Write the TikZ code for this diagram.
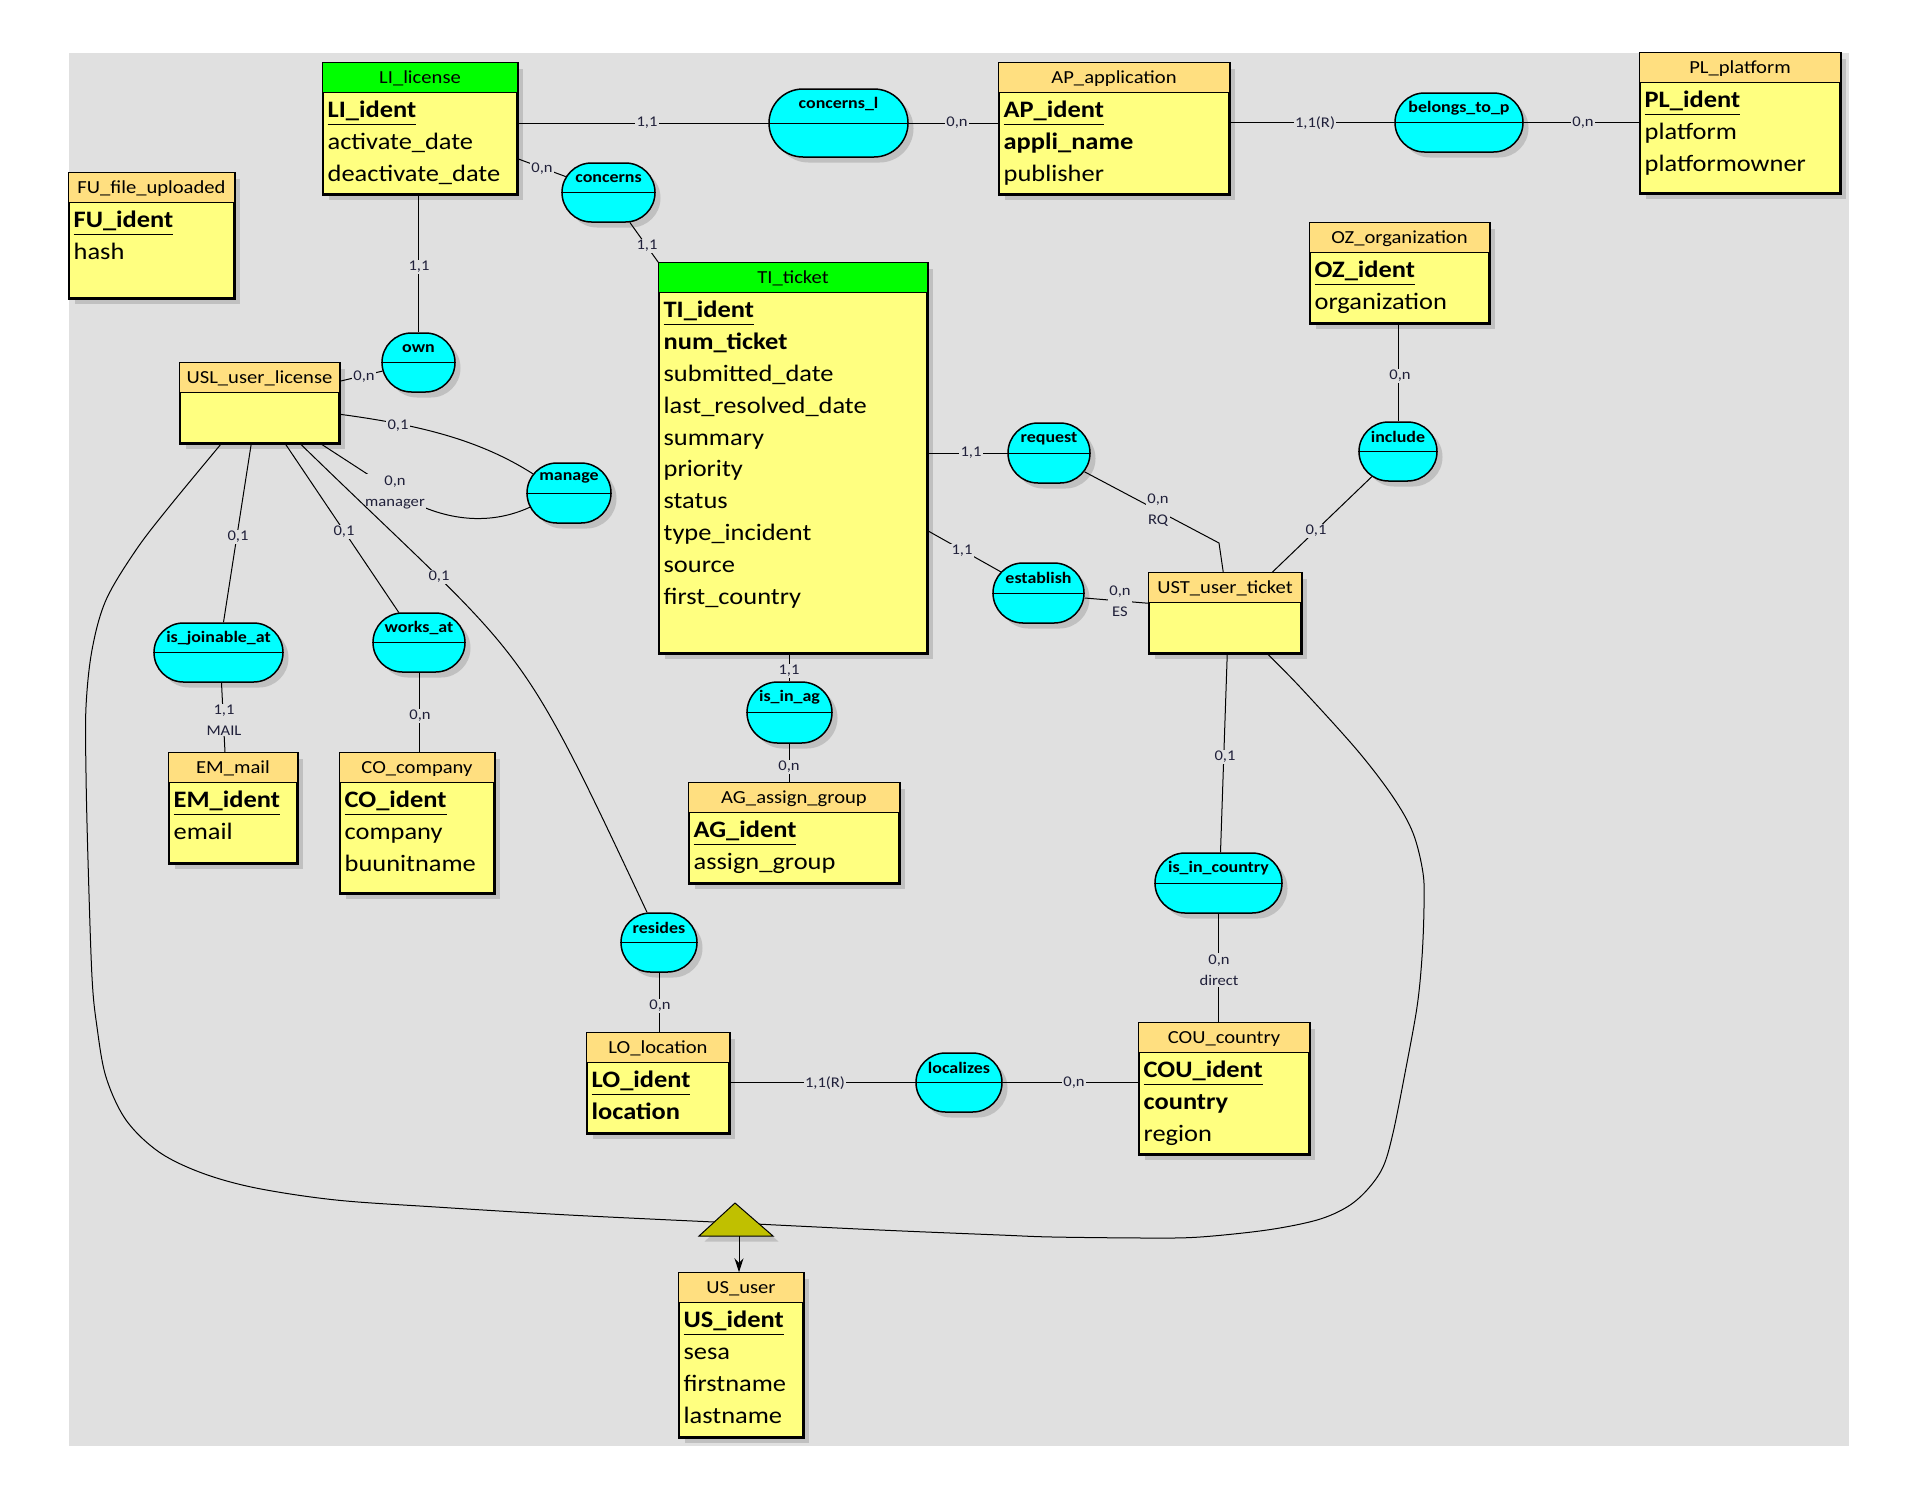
\documentclass[tikz,border=0pt]{standalone}
\usepackage{fontspec}
\setmainfont{Carlito}[FakeStretch=1.12]
\usetikzlibrary{calc,fit,shapes.misc,shadows,arrows.meta}
\definecolor{bgc}{HTML}{E0E0E0}
\definecolor{hdrc}{HTML}{FFDF80}
\definecolor{bodyc}{HTML}{FFFF80}
\definecolor{greenc}{HTML}{00FF00}
\definecolor{relc}{HTML}{00FFFF}
\definecolor{shc}{HTML}{C0C0C0}
\definecolor{olivec}{HTML}{C0C000}
\definecolor{cardc}{HTML}{20203A}
\newcommand{\pk}[1]{\underline{\textbf{#1}}}
\tikzset{
  myshadow/.style={drop shadow={shadow xshift=2.75pt, shadow yshift=-2.75pt, fill=shc, opacity=1}},
  entbox/.style={draw=black, line width=0.75pt, fill=bodyc, inner sep=0pt, myshadow},
  relbox/.style={rounded rectangle, draw=black, line width=0.75pt, fill=relc, inner sep=0pt, myshadow},
  etitle/.style={inner sep=0pt, anchor=base, font=\fontsize{9.2}{10}\selectfont},
  rtitle/.style={inner sep=0pt, font=\fontsize{8}{9}\selectfont\bfseries},
  attr/.style={anchor=base west, inner sep=0pt, font=\fontsize{11.8}{13}\selectfont},
  conn/.style={line width=0.5pt, draw=black},
  card/.style={fill=bgc, inner sep=0.6pt, font=\fontsize{7.4}{10.5}\selectfont, text=cardc, align=center}
}
\newcommand{\ent}[7]{%
  \node[entbox, fit={(#2,#3) (#4,#5)}] (#1) {};
  \fill[#6] (#1.north west) rectangle ($(#1.north east)+(0,30)$);
  \draw[line width=0.75pt] ($(#1.north west)+(0,30)$) -- ($(#1.north east)+(0,30)$);
  \draw[line width=0.75pt] (#1.north west) rectangle (#1.south east);
  \node[etitle] (#1-t) at ($(#1.north)+(0,21.5)$) {#7};
}
\newcommand{\rows}[2]{%
  \foreach \t [count=\i] in {#2}
    \node[attr] (#1-\i) at ($(#1.north west)+(5,{23.8+\i*31.8})$) {\t};
}
\newcommand{\rel}[6]{%
  \pgfmathsetmacro\relw{(#4-#2)*0.5}
  \pgfmathsetmacro\relh{(#5-#3)*0.5}
  \node[relbox, minimum width=\relw pt, minimum height=\relh pt] (#1) at ({(#2+#4)/2},{(#3+#5)/2}) {};
  \draw[line width=0.5pt] (#1.west) -- (#1.east);
  \node[rtitle] (#1-t) at ($(#1.north)+(0,16)$) {#6};
}
\begin{document}
\begin{tikzpicture}[x=0.5pt,y=-0.5pt]
\useasboundingbox (0,0) rectangle (1920,1500);
\fill[bgc] (69,53) rectangle (1849,1446);

% entities
\ent{LI}{323}{63}{517}{194}{greenc}{LI\_license}
\rows{LI}{\pk{LI\_ident},activate\_date,deactivate\_date}
\ent{FU}{69}{173}{234}{298}{hdrc}{FU\_file\_uploaded}
\rows{FU}{\pk{FU\_ident},hash}
\ent{AP}{999}{63}{1229}{194}{hdrc}{AP\_application}
\rows{AP}{\pk{AP\_ident},\textbf{appli\_name},publisher}
\ent{PL}{1640}{53}{1840}{193}{hdrc}{PL\_platform}
\rows{PL}{\pk{PL\_ident},platform,platformowner}
\ent{OZ}{1310}{223}{1489}{323}{hdrc}{OZ\_organization}
\rows{OZ}{\pk{OZ\_ident},organization}
\ent{TI}{659}{263}{927}{653}{greenc}{TI\_ticket}
\rows{TI}{\pk{TI\_ident},\textbf{num\_ticket},submitted\_date,last\_resolved\_date,summary,priority,status,type\_incident,source,first\_country}
\ent{USL}{180}{363}{339}{443}{hdrc}{USL\_user\_license}
\ent{UST}{1149}{573}{1301}{653}{hdrc}{UST\_user\_ticket}
\ent{EM}{169}{753}{297}{863}{hdrc}{EM\_mail}
\rows{EM}{\pk{EM\_ident},email}
\ent{CO}{340}{753}{494}{893}{hdrc}{CO\_company}
\rows{CO}{\pk{CO\_ident},company,buunitname}
\ent{AG}{689}{783}{899}{883}{hdrc}{AG\_assign\_group}
\rows{AG}{\pk{AG\_ident},assign\_group}
\ent{LO}{587}{1033}{729}{1133}{hdrc}{LO\_location}
\rows{LO}{\pk{LO\_ident},\textbf{location}}
\ent{COU}{1139}{1023}{1309}{1154}{hdrc}{COU\_country}
\rows{COU}{\pk{COU\_ident},\textbf{country},region}
\ent{US}{679}{1273}{803}{1437}{hdrc}{US\_user}
\rows{US}{\pk{US\_ident},sesa,firstname,lastname}

% relations
\rel{CL}{769}{89}{908}{157}{concerns\_l}
\rel{BP}{1395}{93}{1523}{152}{belongs\_to\_p}
\rel{CN}{562}{163}{655}{222}{concerns}
\rel{OWN}{382}{333}{455}{392}{own}
\rel{REQ}{1008}{423}{1090}{483}{request}
\rel{EST}{993}{563}{1084}{623}{establish}
\rel{INC}{1359}{422}{1437}{481}{include}
\rel{MAN}{527}{463}{611}{523}{manage}
\rel{JOIN}{154}{623}{283}{682}{is\_joinable\_at}
\rel{WORK}{373}{613}{465}{672}{works\_at}
\rel{ISAG}{747}{682}{832}{743}{is\_in\_ag}
\rel{RES}{621}{913}{697}{972}{resides}
\rel{LOC}{916}{1053}{1002}{1112}{localizes}
\rel{ISC}{1155}{853}{1282}{913}{is\_in\_country}

% connectors
\draw[conn] (CL.west -| LI.east) -- (CL.west);
\node[card] (c1) at (647,123) {1,1};
\draw[conn] (CL.east) -- (CL.east -| AP.west);
\node[card] (c2) at (957,123) {0,n};
\draw[conn] (BP.west -| AP.east) -- (BP.west);
\node[card] (c3) at (1315,123) {1,1(R)};
\draw[conn] (BP.east) -- (BP.east -| PL.west);
\node[card] (c4) at (1583,123) {0,n};

\draw[conn] ($(LI.south east)+(0,-36)$) -- (CN);
\node[card] (c5) at (542,169) {0,n};
\draw[conn] (CN) -- (TI.north west);
\node[card] (c6) at (647,246) {1,1};

\draw[conn] (OWN.north |- LI.south) -- (OWN.north);
\node[card] (c7) at (419,267) {1,1};
\draw[conn] ($(USL.north east)+(0,19)$) -- (OWN);
\node[card] (c8) at (364,377) {0,n};

\draw[conn] ($(USL.north east)+(0,52)$) .. controls (420,425) and (480,440) .. (MAN.152);
\node[card] (c9) at (398,426) {0,1};
\draw[conn] ($(USL.south east)+(-19,0)$) -- (395,492) .. controls (430,515) and (480,530) .. (MAN.200);
\node[card] (c10) at (395,492) {0,n\\manager};

\draw[conn] ($(USL.south west)+(72,0)$) -- ($(JOIN.north)+(5,0)$);
\node[card] (c11) at (238,537) {0,1};
\draw[conn] ($(JOIN.south)+(3,0)$) -- ($(EM.north)+(-8,0)$);
\node[card] (c12) at (224,720) {1,1\\MAIL};

\draw[conn] ($(USL.south west)+(106,0)$) -- (WORK);
\node[card] (c13) at (344,532) {0,1};
\draw[conn] (WORK.south) -- (WORK.south |- CO.north);
\node[card] (c14) at (420,716) {0,n};

\draw[conn] ($(USL.south west)+(121,0)$) .. controls (531,668) and (513,627) .. ($(RES.north)+(-12,0)$);
\node[card] (c15) at (439,577) {0,1};
\draw[conn] (RES.south) -- (RES.south |- LO.north);
\node[card] (c16) at (660,1006) {0,n};

\draw[conn] (LOC.west -| LO.east) -- (LOC.west);
\node[card] (c17) at (825,1083) {1,1(R)};
\draw[conn] (LOC.east) -- (LOC.east -| COU.west);
\node[card] (c18) at (1074,1083) {0,n};

\draw[conn] (ISAG.north |- TI.south) -- (ISAG.north);
\node[card] (c19) at (789,671) {1,1};
\draw[conn] (ISAG.south) -- (ISAG.south |- AG.north);
\node[card] (c20) at (789,767) {0,n};

\draw[conn] (REQ.west -| TI.east) -- (REQ.west);
\node[card] (c21) at (971,453) {1,1};
\coordinate (rqbend) at (1219,543);
\draw[conn] (REQ) -- (rqbend) -- ($(UST.north west)+(75,0)$);
\node[card] (c22) at (1158,510) {0,n\\RQ};

\draw[conn] ($(TI.south east)+(0,-123)$) -- (EST);
\node[card] (c23) at (962,551) {1,1};
\draw[conn] ($(EST.east)+(0,5)$) -- ($(UST.north west)+(0,31)$);
\node[card] (c24) at (1120,601) {0,n\\ES};

\draw[conn] (INC.north |- OZ.south) -- (INC.north);
\node[card] (c25) at (1400,376) {0,n};
\draw[conn] (INC) -- ($(UST.north west)+(124,0)$);
\node[card] (c26) at (1316,531) {0,1};

\draw[conn] ($(UST.south west)+(79,0)$) -- ($(ISC.north)+(2,0)$);
\node[card] (c27) at (1225,757) {0,1};
\draw[conn] (ISC.south) -- (ISC.south |- COU.north);
\node[card] (c28) at (1219,970) {0,n\\direct};

% inheritance
\coordinate (isa) at (736,1223);
\coordinate (uslA) at ($(USL.south west)+(42,0)$);
\coordinate (ustA) at ($(UST.south west)+(119,0)$);
\draw[conn] plot[smooth, tension=0.55] coordinates {(uslA) (169,507) (136,550) (106,600) (92,650) (86,707) (86,773) (88,860) (92,977) (97,1027) (106,1077) (126,1120) (159,1152) (202,1173) (256,1188) (336,1200) (436,1207) (569,1215) (isa)};
\draw[conn] plot[smooth, tension=0.55] coordinates {(ustA) (1300,687) (1357,750) (1393,797) (1413,833) (1423,873) (1424,907) (1422,957) (1417,1007) (1405,1073) (1393,1133) (1383,1167) (1367,1190) (1347,1207) (1317,1220) (1267,1230) (1200,1237) (1150,1238) (1053,1237) (1000,1235) (880,1230) (isa)};
\filldraw[fill=olivec, draw=black, line width=0.5pt, myshadow] ($(isa)+(-37,13)$) -- ($(isa)+(-1,-20)$) -- ($(isa)+(37,13)$) -- cycle;
\coordinate (isab) at (739,1236);
\draw[conn, -{Stealth[length=7pt,width=4.5pt]}] (isab) -- (isab |- US.north);
\end{tikzpicture}
\end{document}
